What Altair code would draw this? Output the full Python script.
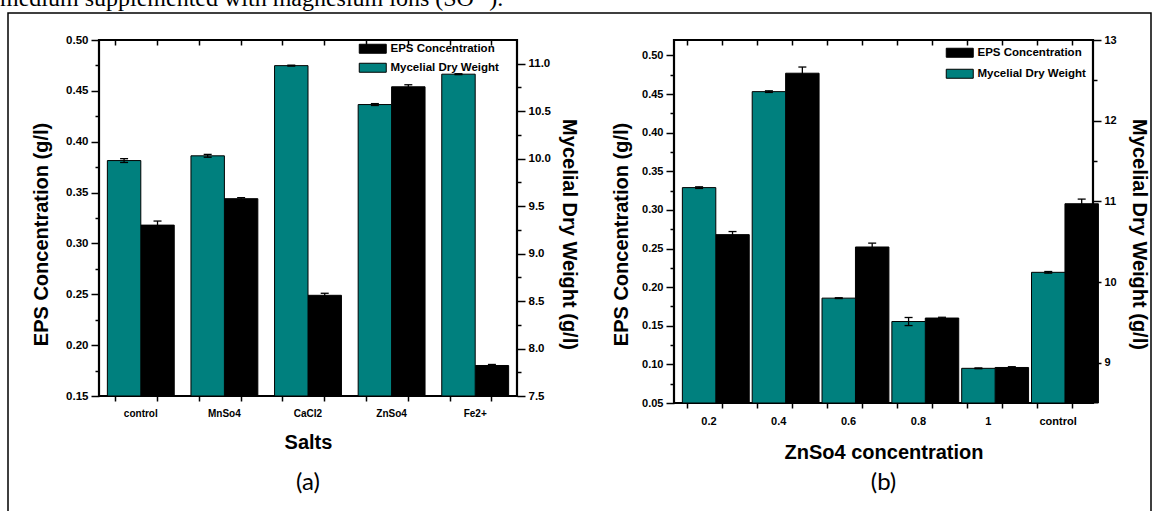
import altair as alt
import pandas as pd

# ---------------- data ----------------
HEADER = "medium supplemented with magnesium ions (SO²⁻)."

SALTS = ["control", "MnSo4", "CaCl2", "ZnSo4", "Fe2+"]
EPS_A = [0.318, 0.344, 0.249, 0.454, 0.180]
EPS_A_ERR = [0.004, 0.001, 0.002, 0.002, 0.001]
MDW_A = [9.98, 10.03, 10.98, 10.57, 10.89]
MDW_A_ERR = [0.02, 0.015, 0.005, 0.01, 0.005]

ZNSO4_CONC = ["0.2", "0.4", "0.6", "0.8", "1", "control"]
EPS_B = [0.268, 0.477, 0.252, 0.160, 0.096, 0.308]
EPS_B_ERR = [0.004, 0.008, 0.005, 0.001, 0.001, 0.006]
MDW_B = [11.17, 12.36, 9.80, 9.51, 8.93, 10.12]
MDW_B_ERR = [0.01, 0.01, 0.005, 0.05, 0.005, 0.01]

EPS_TICKS_A = [0.15, 0.20, 0.25, 0.30, 0.35, 0.40, 0.45, 0.50]
EPS_MINOR_A = [0.175, 0.225, 0.275, 0.325, 0.375, 0.425, 0.475]
MDW_TICKS_A = [7.5, 8.0, 8.5, 9.0, 9.5, 10.0, 10.5, 11.0]
MDW_MINOR_A = [7.75, 8.25, 8.75, 9.25, 9.75, 10.25, 10.75]

EPS_TICKS_B = [0.05, 0.10, 0.15, 0.20, 0.25, 0.30, 0.35, 0.40, 0.45, 0.50]
EPS_MINOR_B = [0.075, 0.125, 0.175, 0.225, 0.275, 0.325, 0.375, 0.425, 0.475]
MDW_TICKS_B = [9, 10, 11, 12, 13]
MDW_MINOR_B = [9.5, 10.5, 11.5, 12.5]

TEAL = "#00807e"
EPS_NAME = "EPS Concentration"
MDW_NAME = "Mycelial Dry Weight"
SANS = "Liberation Sans, Arial, sans-serif"
SERIF = "Liberation Serif, Times New Roman, serif"
CAPTION_FONT = "Lato, Open Sans, sans-serif"


def build_panel(cats, eps, eps_err, mdw, mdw_err, cfg, extra_layers=()):
    df = pd.DataFrame({"cat": cats, "eps": eps, "eps_err": eps_err,
                       "mdw": mdw, "mdw_err": mdw_err})
    W, H = cfg["width"], cfg["height"]

    xscale = alt.Scale(paddingInner=0, paddingOuter=0)
    xoff = alt.XOffset("series:N", scale=alt.Scale(domain=[MDW_NAME, EPS_NAME],
                                                   paddingInner=0, paddingOuter=cfg["pad"]))
    eps_scale = alt.Scale(domain=cfg["eps_domain"], zero=False, nice=False, clamp=True)
    mdw_scale = alt.Scale(domain=cfg["mdw_domain"], zero=False, nice=False, clamp=True)

    legend = alt.Legend(title=None, orient="none", legendX=cfg["legend_x"], legendY=cfg["legend_y"],
                        symbolType="M-3,-1H3V1H-3Z", symbolSize=81, symbolStrokeColor="black",
                        symbolStrokeWidth=1, symbolOpacity=1, labelFont=SANS, labelFontSize=cfg["legend_fs"],
                        labelFontWeight="bold", labelColor="black", labelOffset=12,
                        rowPadding=cfg["row_pad"], padding=0)
    color = alt.Color("series:N", scale=alt.Scale(domain=[EPS_NAME, MDW_NAME], range=["#000000", TEAL]),
                      legend=legend)

    def X(axis):
        return alt.X("cat:N", sort=cats, scale=xscale, axis=axis)

    lab_pos, mid_pos = cfg["lab_pos"], cfg["mid_pos"]
    x_main = alt.Axis(orient="bottom", bandPosition=lab_pos, domain=False, grid=False,
                      tickSize=5, tickWidth=1.5, tickColor="black", labelAngle=0,
                      labelFont=SANS, labelFontSize=cfg["xlab_fs"], labelFontWeight="bold",
                      labelColor="black", labelPadding=7,
                      title=cfg["x_title"], titleFont=SANS, titleFontSize=20, titleFontWeight="bold",
                      titleColor="black", titleX=W / 2, titleY=cfg["x_title_y"], titleBaseline="middle",
                      titleAlign="center")
    x_bottom_minor = alt.Axis(orient="bottom", bandPosition=mid_pos, domain=False, grid=False,
                              tickSize=5, tickWidth=1.5, tickColor="black", labels=False, title=None)
    x_top_a = alt.Axis(orient="top", bandPosition=lab_pos, domain=False, grid=False, offset=-5,
                       tickSize=5, tickWidth=1.5, tickColor="black", labels=False, title=None)
    x_top_b = alt.Axis(orient="top", bandPosition=mid_pos, domain=False, grid=False, offset=-5,
                       tickSize=5, tickWidth=1.5, tickColor="black", labels=False, title=None)

    y_left = alt.Axis(orient="left", values=cfg["eps_ticks"], format=".2f", domain=False, grid=False,
                      tickSize=8, tickWidth=1.5, tickColor="black", labelFont=SANS,
                      labelFontSize=cfg["ylab_fs"], labelFontWeight="bold", labelColor="black",
                      labelPadding=3,
                      title="EPS Concentration (g/l)", titleFont=SANS, titleFontSize=20,
                      titleFontWeight="bold", titleColor="black", titleAngle=270,
                      titleX=cfg["left_title_x"], titleY=cfg["title_y"], titleBaseline="middle",
                      titleAlign="center")
    y_left_minor = alt.Axis(orient="left", values=cfg["eps_minor"], domain=False, grid=False,
                            tickSize=4, tickWidth=1.5, tickColor="black", labels=False, title=None)
    y_right = alt.Axis(orient="right", values=cfg["mdw_ticks"], format=cfg["mdw_fmt"], domain=False,
                       grid=False, tickSize=8, tickWidth=1.5, tickColor="black", labelFont=SANS,
                       labelFontSize=cfg["ylab_fs"], labelFontWeight="bold", labelColor="black",
                       labelPadding=3,
                       title="Mycelial Dry Weight (g/l)", titleFont=SANS, titleFontSize=20,
                       titleFontWeight="bold", titleColor="black", titleAngle=90,
                       titleX=cfg["right_title_x"], titleY=cfg["title_y"], titleBaseline="middle",
                       titleAlign="center")
    y_right_minor = alt.Axis(orient="right", values=cfg["mdw_minor"], domain=False, grid=False,
                             tickSize=4, tickWidth=1.5, tickColor="black", labels=False, title=None)

    base = alt.Chart(df).transform_calculate(
        eps_lo="datum.eps - datum.eps_err", eps_hi="datum.eps + datum.eps_err",
        mdw_lo="datum.mdw - datum.mdw_err", mdw_hi="datum.mdw + datum.mdw_err",
    )
    black_base = base.transform_calculate(series=f"'{EPS_NAME}'")
    teal_base = base.transform_calculate(series=f"'{MDW_NAME}'")

    black_bars = black_base.mark_bar(stroke="black", strokeWidth=1, opacity=1).encode(
        x=X(x_main), xOffset=xoff,
        y=alt.Y("eps:Q", scale=eps_scale, axis=y_left), color=color)
    black_rule = black_base.mark_rule(color="black", strokeWidth=1.3).encode(
        x=X(x_bottom_minor), xOffset=xoff,
        y=alt.Y("eps_lo:Q", scale=eps_scale, axis=y_left_minor), y2="eps_hi:Q")
    black_caps = black_base.transform_fold(["eps_lo", "eps_hi"], as_=["end", "v"]).mark_tick(
        color="black", size=8, thickness=1.3, opacity=1).encode(
        x=X(x_top_a), xOffset=xoff, y=alt.Y("v:Q", scale=eps_scale, axis=None))

    teal_bars = teal_base.mark_bar(stroke="black", strokeWidth=1, opacity=1).encode(
        x=X(x_top_b), xOffset=xoff,
        y=alt.Y("mdw:Q", scale=mdw_scale, axis=y_right), color=color)
    teal_rule = teal_base.mark_rule(color="black", strokeWidth=1.3).encode(
        x=X(None), xOffset=xoff,
        y=alt.Y("mdw_lo:Q", scale=mdw_scale, axis=y_right_minor), y2="mdw_hi:Q")
    teal_caps = teal_base.transform_fold(["mdw_lo", "mdw_hi"], as_=["end", "v"]).mark_tick(
        color="black", size=8, thickness=1.3, opacity=1).encode(
        x=X(None), xOffset=xoff, y=alt.Y("v:Q", scale=mdw_scale, axis=None))

    caption = alt.Chart(pd.DataFrame({"label": [cfg["caption"]]})).mark_text(
        font=CAPTION_FONT, fontSize=24, align="center", baseline="middle", color="black").encode(
        text="label:N", x=alt.value(W / 2), y=alt.value(cfg["caption_y"]))

    layers = [black_bars, black_rule, black_caps, teal_bars, teal_rule, teal_caps, caption, *extra_layers]
    return alt.layer(*layers).resolve_scale(y="independent").resolve_axis(x="independent").properties(
        width=W, height=H)


# decorations for the page (header text cut at the top, frame)
header = alt.Chart(pd.DataFrame({"t": [HEADER]})).mark_text(
    font=SERIF, fontSize=24, align="left", baseline="alphabetic", color="black").encode(
    text="t:N", x=alt.value(-99), y=alt.value(-34))
frame = alt.Chart(pd.DataFrame({"k": [0]})).mark_rect(
    filled=False, stroke="black", strokeWidth=1.5).encode(
    x=alt.value(-91), x2=alt.value(1052), y=alt.value(-27), y2=alt.value(490))

cfg_a = dict(width=418, height=356, pad=0.25, eps_domain=[0.15, 0.50], mdw_domain=[7.5, 11.25],
             eps_ticks=EPS_TICKS_A, eps_minor=EPS_MINOR_A, mdw_ticks=MDW_TICKS_A,
             mdw_minor=MDW_MINOR_A, mdw_fmt=".1f", x_title="Salts", x_title_y=46,
             caption="(a)", caption_y=443, legend_x=268, legend_y=3, legend_fs=11.5, row_pad=5,
             lab_pos=0.70, mid_pos=0.20, xlab_fs=10, ylab_fs=11.5,
             left_title_x=-58, right_title_x=51, title_y=194)
cfg_b = dict(width=419, height=363, pad=0.27, eps_domain=[0.05, 0.52], mdw_domain=[8.5, 13],
             eps_ticks=EPS_TICKS_B, eps_minor=EPS_MINOR_B, mdw_ticks=MDW_TICKS_B,
             mdw_minor=MDW_MINOR_B, mdw_fmt="d", x_title="ZnSo4 concentration", x_title_y=49,
             caption="(b)", caption_y=443, legend_x=280, legend_y=7, legend_fs=11.5, row_pad=7,
             lab_pos=0.70, mid_pos=0.20, xlab_fs=11, ylab_fs=11,
             left_title_x=-53, right_title_x=45, title_y=194)

panel_a = build_panel(SALTS, EPS_A, EPS_A_ERR, MDW_A, MDW_A_ERR, cfg_a, extra_layers=(header, frame))
panel_b = build_panel(ZNSO4_CONC, EPS_B, EPS_B_ERR, MDW_B, MDW_B_ERR, cfg_b)

chart = alt.hconcat(panel_a, panel_b, spacing=157, bounds="flush").resolve_scale(
    color="independent"
).configure_view(stroke="black", strokeWidth=2.2).properties(
    autosize=alt.AutoSizeParams(type="none"),
    padding={"left": 99, "top": 40, "right": 1059, "bottom": 471},
    background="white",
)

chart.save("out.html", embed_options={"renderer": "svg", "actions": False})
